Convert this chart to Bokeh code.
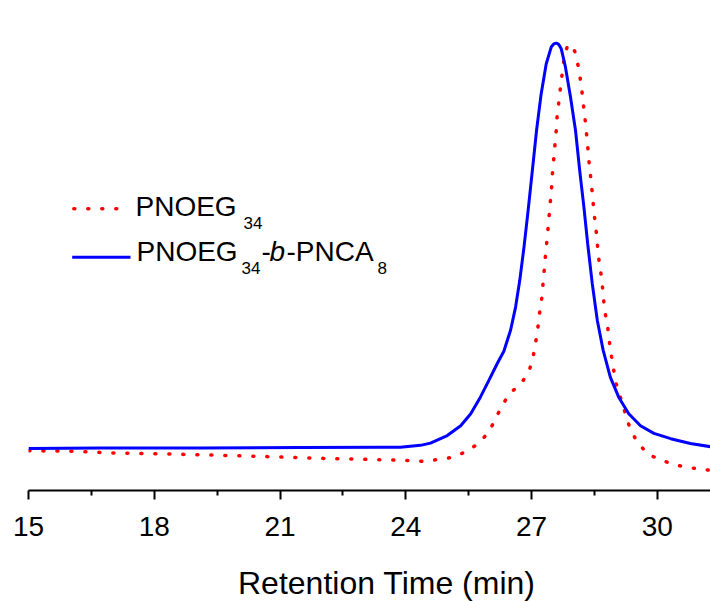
from bokeh.plotting import figure
from bokeh.models import Range1d, FixedTicker, Label, Arrow
from bokeh.layouts import column
from bokeh.embed import file_html
from bokeh.resources import INLINE

# ---- data (retention time in min, normalised RI signal) ----
blue_t = [15.00, 16.72, 19.10, 21.49, 23.39, 23.87, 24.35, 24.59, 24.99, 25.31, 25.55,
          25.78, 25.98, 26.18, 26.34, 26.50, 26.62, 26.72, 26.82, 26.91, 27.02, 27.12,
          27.23, 27.35, 27.47, 27.53, 27.59, 27.65, 27.71, 27.81, 27.93, 28.05, 28.15,
          28.25, 28.34, 28.45, 28.57, 28.71, 28.88, 29.08, 29.32, 29.60, 29.92, 30.32,
          30.79, 31.27]
blue_y = [0.092, 0.093, 0.093, 0.094, 0.095, 0.095, 0.099, 0.104, 0.121, 0.143, 0.170,
          0.207, 0.244, 0.282, 0.310, 0.357, 0.409, 0.469, 0.543, 0.618, 0.715, 0.805,
          0.887, 0.954, 0.992, 0.999, 1.001, 0.998, 0.988, 0.947, 0.880, 0.805, 0.715,
          0.633, 0.551, 0.461, 0.379, 0.312, 0.252, 0.207, 0.170, 0.143, 0.126, 0.114,
          0.103, 0.096]

red_t = [15.01, 16.00, 17.03, 18.15, 19.50, 20.61, 21.96, 23.32, 24.11, 24.42, 24.75,
         25.11, 25.42, 25.70, 25.98, 26.10, 26.26, 26.47, 26.76, 26.95, 27.04, 27.10,
         27.15, 27.19, 27.24, 27.27, 27.30, 27.33, 27.36, 27.39, 27.42, 27.45, 27.48,
         27.50, 27.53, 27.56, 27.59, 27.61, 27.65, 27.69, 27.73, 27.79, 27.86, 27.94,
         28.03, 28.11, 28.17, 28.21, 28.25, 28.29, 28.35, 28.38, 28.42, 28.45, 28.50,
         28.54, 28.57, 28.60, 28.65, 28.69, 28.72, 28.76, 28.82, 28.86, 28.91, 28.96,
         29.02, 29.12, 29.23, 29.34, 29.50, 29.76, 30.06, 30.39, 30.71, 30.99, 31.27]
red_y = [0.087, 0.086, 0.082, 0.080, 0.077, 0.074, 0.070, 0.067, 0.065, 0.063, 0.067,
         0.072, 0.084, 0.101, 0.128, 0.151, 0.181, 0.215, 0.238, 0.268, 0.298, 0.330,
         0.362, 0.394, 0.425, 0.457, 0.489, 0.521, 0.551, 0.582, 0.614, 0.646, 0.678,
         0.709, 0.741, 0.774, 0.805, 0.836, 0.868, 0.901, 0.932, 0.975, 0.995, 0.998,
         0.983, 0.951, 0.917, 0.887, 0.854, 0.820, 0.760, 0.726, 0.694, 0.663, 0.614,
         0.582, 0.551, 0.521, 0.489, 0.457, 0.425, 0.394, 0.362, 0.330, 0.298, 0.268,
         0.237, 0.207, 0.173, 0.140, 0.110, 0.080, 0.067, 0.056, 0.050, 0.046, 0.043]

major_ticks = [15, 18, 21, 24, 27, 30]
minor_ticks = [16.5, 19.5, 22.5, 25.5, 28.5]
x_title = "Retention Time (min)"

FONT = "Liberation Sans"

p = figure(width=710, height=560, output_backend="svg", toolbar_location=None,
           x_range=Range1d(15, 31.27), y_range=Range1d(-0.0022, 1.0964),
           y_axis_location=None, min_border_left=28, min_border_right=0,
           min_border_top=0, min_border_bottom=70)
p.outline_line_color = None
p.grid.visible = False
p.background_fill_color = "white"
p.border_fill_color = "white"

ax = p.xaxis[0]
ax.ticker = FixedTicker(ticks=major_ticks, minor_ticks=minor_ticks)
ax.axis_line_width = 2
ax.axis_line_color = "black"
ax.major_tick_line_width = 2
ax.minor_tick_line_width = 2
ax.major_tick_line_color = "black"
ax.minor_tick_line_color = "black"
ax.major_tick_in = 0
ax.major_tick_out = 9
ax.minor_tick_in = 0
ax.minor_tick_out = 5
ax.major_label_text_font = FONT
ax.major_label_text_font_size = "28px"
ax.major_label_text_color = "black"
ax.major_label_standoff = 17

# curves
p.line(red_t, red_y, line_color="#FF0000", line_width=3.5, line_dash="1 13",
       line_cap="round")
p.line(blue_t, blue_y, line_color="#0000FF", line_width=3)

# legend samples
p.add_layout(Arrow(x_start=45.3, y_start=281.7, x_end=88.5, y_end=281.7,
                   start_units="screen", end_units="screen", start=None, end=None,
                   line_color="#FF0000", line_width=3.5, line_dash="1 13", line_cap="round"))
p.add_layout(Arrow(x_start=43.7, y_start=233.3, x_end=102, y_end=233.3,
                   start_units="screen", end_units="screen", start=None, end=None,
                   line_color="#0000FF", line_width=3))

def txt(fig, x, y, s, size, style="normal"):
    fig.add_layout(Label(x=x, y=y, x_units="screen", y_units="screen", text=s,
                         text_font=FONT, text_font_size=size, text_font_style=style,
                         text_color="black", text_align="left", text_baseline="alphabetic"))

# legend texts
txt(p, 107, 284.5, "PNOEG", "28px")
txt(p, 215, 267.1, "34", "17px")
txt(p, 108, 238.8, "PNOEG", "28px")
txt(p, 213, 222.1, "34", "17px")
txt(p, 233, 238.8, "-", "28px")
txt(p, 241, 238.8, "b", "28px", "italic")
txt(p, 258, 238.8, "-PNCA", "28px")
txt(p, 349, 222.1, "8", "17px")

# strip below the chart carrying the x-axis title
t = figure(width=710, height=41, output_backend="svg", toolbar_location=None,
           x_range=Range1d(0, 1), y_range=Range1d(0, 1),
           x_axis_location=None, y_axis_location=None, min_border=0)
t.outline_line_color = None
t.grid.visible = False
t.background_fill_color = "white"
t.border_fill_color = "white"
txt(t, 209.5, 19, x_title, "32px")

layout = column(p, t, spacing=0)

open("out.html", "w").write(file_html(layout, INLINE))
